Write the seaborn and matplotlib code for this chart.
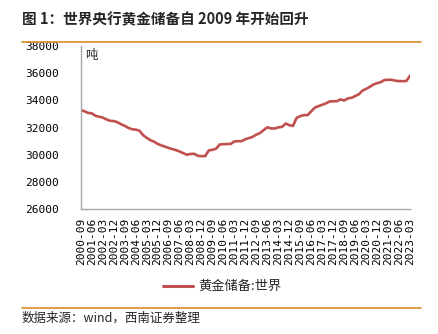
import matplotlib
matplotlib.use("Agg")
import matplotlib.pyplot as plt
import seaborn as sns
import pandas as pd
import numpy as np

# World official gold reserves (tonnes), quarterly from 2000-09 to 2023-03
quarters = pd.period_range("2000Q3", "2023Q1", freq="Q")
labels = [f"{p.year}-{p.quarter * 3:02d}" for p in quarters]
reserves = [
    33300, 33200, 33080, 33050, 32870, 32800, 32740, 32600, 32500, 32480,
    32400, 32250, 32130, 31980, 31880, 31850, 31780, 31450, 31250, 31080,
    30970, 30800, 30690, 30600, 30500, 30420, 30340, 30240, 30120, 30000,
    30060, 30070, 29920, 29900, 29900, 30320, 30360, 30450, 30760, 30780,
    30790, 30800, 30980, 31000, 31000, 31150, 31230, 31320, 31480, 31600,
    31820, 32020, 31940, 31930, 32020, 32050, 32300, 32180, 32120, 32720,
    32840, 32920, 32920, 33200, 33470, 33580, 33680, 33780, 33920, 33940,
    33940, 34080, 33990, 34150, 34190, 34320, 34450, 34720, 34850, 35000,
    35170, 35270, 35350, 35500, 35520, 35520, 35450, 35420, 35420, 35430,
    35820,
]
series_name = "黄金储备:世界"
y_ticks = [26000, 28000, 30000, 32000, 34000, 36000, 38000]

df = pd.DataFrame({"idx": np.arange(len(reserves)), "value": reserves,
                   "series": series_name})

sns.set_style("white")
plt.rcParams["font.family"] = ["Noto Sans CJK SC", "DejaVu Sans"]

fig = plt.figure(figsize=(4.39, 3.34), dpi=100)
ax = fig.add_axes([0.184, 0.374, 0.750, 0.488])

line_color = "#C0504D"
sns.lineplot(data=df, x="idx", y="value", hue="series", palette=[line_color],
             linewidth=1.9, ax=ax, legend=False)

ax.set_xlim(0, len(reserves) - 1)
ax.set_ylim(26000, 38000)
ax.set_yticks(y_ticks)
ax.set_yticklabels([str(v) for v in y_ticks], family="DejaVu Sans Mono",
                   fontsize=8)
tick_pos = list(range(0, len(reserves), 3))
ax.set_xticks(tick_pos)
ax.set_xticklabels([labels[i] for i in tick_pos], rotation=90,
                   family="DejaVu Sans Mono", fontsize=8)
ax.set_xlabel("")
ax.set_ylabel("")

axis_gray = "#A6A6A6"
for side in ("top", "right"):
    ax.spines[side].set_visible(False)
for side in ("left", "bottom"):
    ax.spines[side].set_color(axis_gray)
    ax.spines[side].set_linewidth(1.0)
ax.tick_params(axis="both", direction="out", length=4, width=1.0,
               color=axis_gray, labelcolor="#000000", pad=3)
ax.tick_params(axis="x", length=3, pad=3)
ax.tick_params(axis="y", pad=12)

# unit label at the top of the value axis
ax.text(0.012, 0.985, "吨", transform=ax.transAxes, fontsize=9,
        ha="left", va="top")

# legend below the axis labels
fig.lines.append(plt.Line2D([163 / 439, 193 / 439], [1 - 286 / 334] * 2,
                            color=line_color, linewidth=2.2,
                            transform=fig.transFigure))
fig.text(198 / 439, 1 - 286 / 334, series_name, fontsize=9.5,
         ha="left", va="center")

# title and rules
orange = "#D98B2B"
fig.text(22 / 439, 1 - 19 / 334, "图 1：世界央行黄金储备自 2009 年开始回升",
         fontsize=10.5, fontweight="bold", ha="left", va="center")
fig.lines.append(plt.Line2D([22 / 439, 421 / 439], [1 - 42 / 334] * 2,
                            color=orange, linewidth=1.2,
                            transform=fig.transFigure))
fig.lines.append(plt.Line2D([22 / 439, 421 / 439], [1 - 307.5 / 334] * 2,
                            color=orange, linewidth=1.2,
                            transform=fig.transFigure))
fig.text(22 / 439, 1 - 318 / 334, "数据来源：wind，西南证券整理",
         fontsize=9, style="italic", ha="left", va="center")

fig.savefig("out.png", dpi=100)
